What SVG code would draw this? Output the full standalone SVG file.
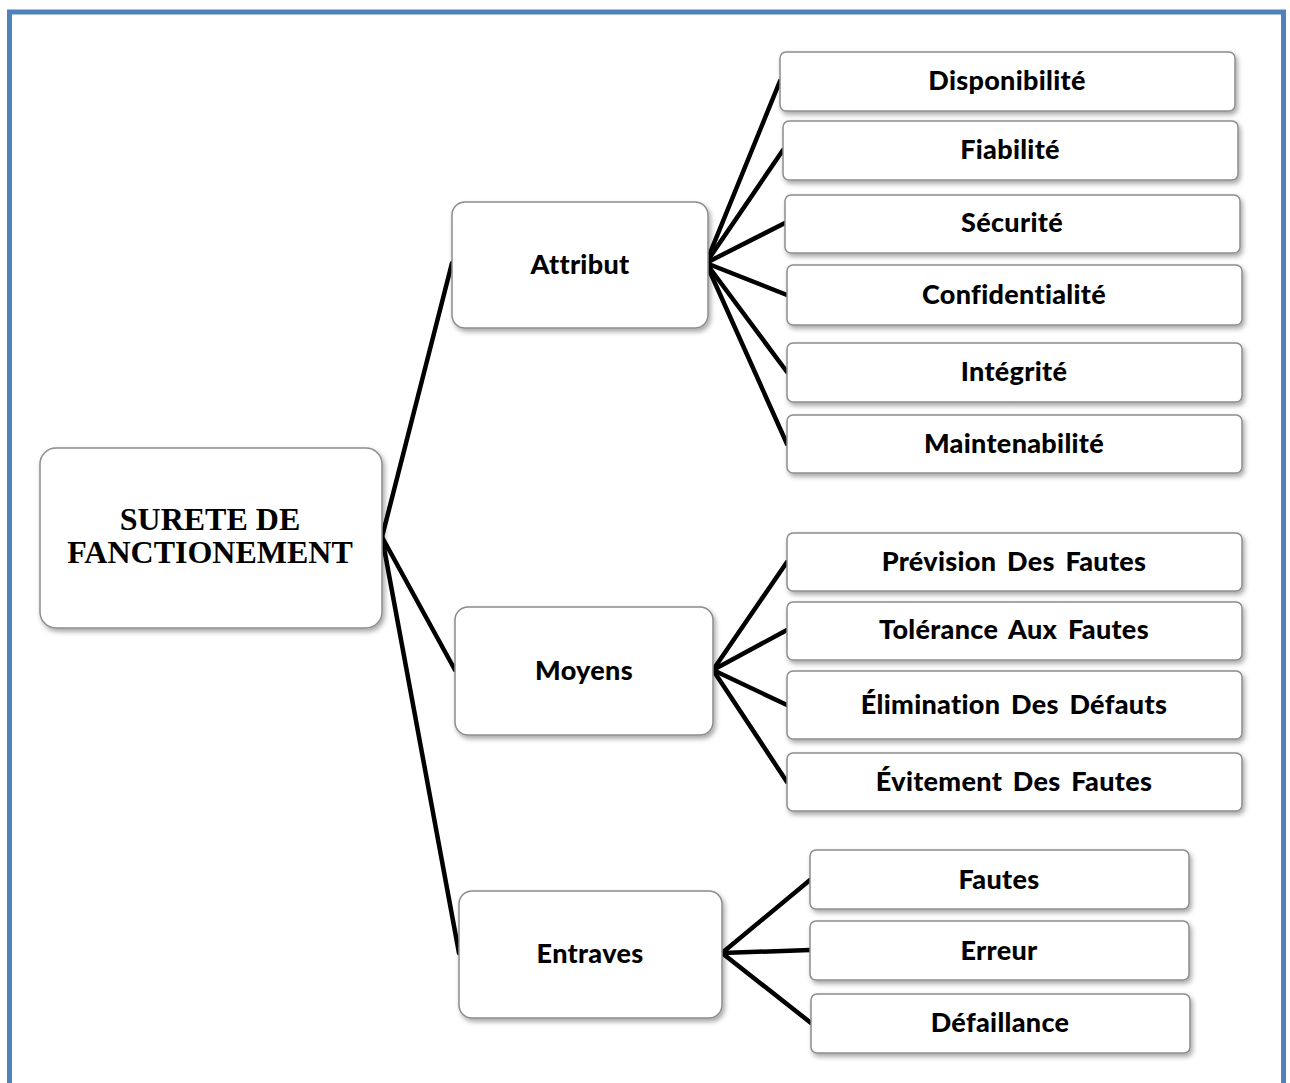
<svg xmlns="http://www.w3.org/2000/svg" width="1290" height="1083" viewBox="0 0 1290 1083">
  <style>
    .box { fill: #ffffff; stroke: #8c8c8c; stroke-width: 1.5; filter: url(#shadow); }
    .lbl { font-family: "Lato", "Open Sans", "Liberation Sans", sans-serif; font-weight: 900; font-size: 27px; word-spacing: 4px; letter-spacing: 0.3px; fill: #000000; text-anchor: middle; dominant-baseline: central; }
    .root { font-family: "Liberation Serif", "Times New Roman", serif; font-weight: 700; font-size: 32px; fill: #000000; text-anchor: middle; }
    .link { stroke: #000000; stroke-width: 4.5; fill: none; stroke-linecap: round; }
  </style>
  <defs>
    <filter id="shadow" x="-10%" y="-20%" width="125%" height="150%">
      <feDropShadow dx="2" dy="3" stdDeviation="2.5" flood-color="#000000" flood-opacity="0.35"/>
    </filter>
  </defs>

  <rect x="0" y="0" width="1290" height="1083" fill="#ffffff"/>
  <!-- page frame -->
  <rect x="9.5" y="12" width="1274" height="1100" fill="none" stroke="#4f81bd" stroke-width="5"/>

  <!-- connectors -->
  <g id="connectors">
    <line class="link" x1="382" y1="537" x2="452" y2="263"/>
    <line class="link" x1="382" y1="537" x2="455" y2="670"/>
    <line class="link" x1="382" y1="537" x2="459" y2="953"/>

    <line class="link" x1="706" y1="263" x2="780" y2="81"/>
    <line class="link" x1="706" y1="263" x2="783" y2="150"/>
    <line class="link" x1="706" y1="263" x2="785" y2="223"/>
    <line class="link" x1="706" y1="263" x2="787" y2="295"/>
    <line class="link" x1="706" y1="263" x2="787" y2="372"/>
    <line class="link" x1="706" y1="263" x2="787" y2="444"/>

    <line class="link" x1="713" y1="670" x2="787" y2="562"/>
    <line class="link" x1="713" y1="670" x2="787" y2="630"/>
    <line class="link" x1="713" y1="670" x2="787" y2="705"/>
    <line class="link" x1="713" y1="670" x2="787" y2="782"/>

    <line class="link" x1="722" y1="953" x2="810" y2="880"/>
    <line class="link" x1="722" y1="953" x2="810" y2="950"/>
    <line class="link" x1="722" y1="953" x2="811" y2="1023"/>
  </g>

  <!-- root -->
  <g id="node-root">
    <rect class="box" x="40" y="448" width="342" height="180" rx="16"/>
    <text class="root" x="210" y="530">SURETE DE</text>
    <text class="root" x="210" y="563">FANCTIONEMENT</text>
  </g>

  <!-- second level -->
  <g id="node-attribut">
    <rect class="box" x="452" y="202" width="256" height="126" rx="13"/>
    <text class="lbl" x="580" y="263">Attribut</text>
  </g>
  <g id="node-moyens">
    <rect class="box" x="455" y="607" width="258" height="128" rx="13"/>
    <text class="lbl" x="584" y="669">Moyens</text>
  </g>
  <g id="node-entraves">
    <rect class="box" x="459" y="891" width="263" height="127" rx="13"/>
    <text class="lbl" x="590" y="952">Entraves</text>
  </g>

  <!-- attribut leaves -->
  <g id="node-disponibilite">
    <rect class="box" x="780" y="52" width="455" height="59" rx="6"/>
    <text class="lbl" x="1007" y="79">Disponibilité</text>
  </g>
  <g id="node-fiabilite">
    <rect class="box" x="783" y="121" width="455" height="59" rx="6"/>
    <text class="lbl" x="1010" y="148">Fiabilité</text>
  </g>
  <g id="node-securite">
    <rect class="box" x="785" y="195" width="455" height="58" rx="6"/>
    <text class="lbl" x="1012" y="221">Sécurité</text>
  </g>
  <g id="node-confidentialite">
    <rect class="box" x="787" y="265" width="455" height="60" rx="6"/>
    <text class="lbl" x="1014" y="293">Confidentialité</text>
  </g>
  <g id="node-integrite">
    <rect class="box" x="787" y="343" width="455" height="59" rx="6"/>
    <text class="lbl" x="1014" y="370">Intégrité</text>
  </g>
  <g id="node-maintenabilite">
    <rect class="box" x="787" y="415" width="455" height="58" rx="6"/>
    <text class="lbl" x="1014" y="442">Maintenabilité</text>
  </g>

  <!-- moyens leaves -->
  <g id="node-prevision">
    <rect class="box" x="787" y="533" width="455" height="58" rx="6"/>
    <text class="lbl" x="1014" y="560">Prévision Des Fautes</text>
  </g>
  <g id="node-tolerance">
    <rect class="box" x="787" y="602" width="455" height="58" rx="6"/>
    <text class="lbl" x="1014" y="628">Tolérance Aux Fautes</text>
  </g>
  <g id="node-elimination">
    <rect class="box" x="787" y="671" width="455" height="68" rx="6"/>
    <text class="lbl" x="1014" y="703">Élimination Des Défauts</text>
  </g>
  <g id="node-evitement">
    <rect class="box" x="787" y="753" width="455" height="58" rx="6"/>
    <text class="lbl" x="1014" y="780">Évitement Des Fautes</text>
  </g>

  <!-- entraves leaves -->
  <g id="node-fautes">
    <rect class="box" x="810" y="850" width="379" height="59" rx="6"/>
    <text class="lbl" x="999" y="878">Fautes</text>
  </g>
  <g id="node-erreur">
    <rect class="box" x="810" y="921" width="379" height="59" rx="6"/>
    <text class="lbl" x="999" y="949">Erreur</text>
  </g>
  <g id="node-defaillance">
    <rect class="box" x="811" y="994" width="379" height="59" rx="6"/>
    <text class="lbl" x="1000" y="1021">Défaillance</text>
  </g>
</svg>
